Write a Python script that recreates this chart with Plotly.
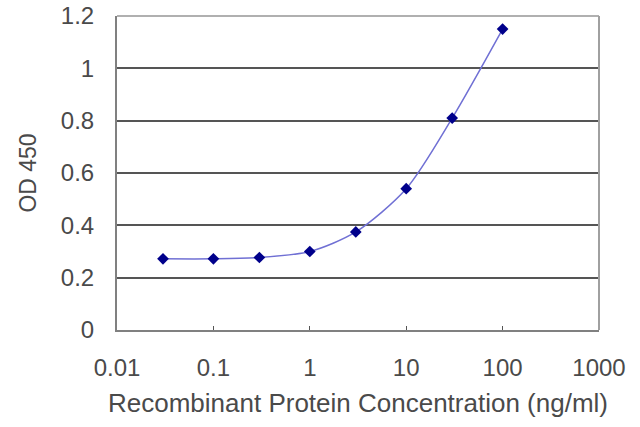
import plotly.graph_objects as go

# ELISA standard curve values
concentration = [0.03, 0.1, 0.3, 1, 3, 10, 30, 100]
od450 = [0.272, 0.272, 0.277, 0.300, 0.375, 0.540, 0.810, 1.150]

x_ticks = [0.01, 0.1, 1, 10, 100, 1000]
x_labels = ["0.01", "0.1", "1", "10", "100", "1000"]
y_ticks = [0, 0.2, 0.4, 0.6, 0.8, 1.0, 1.2]
y_labels = ["0", "0.2", "0.4", "0.6", "0.8", "1", "1.2"]

fig = go.Figure()
fig.add_trace(go.Scatter(
    x=concentration, y=od450,
    mode="lines+markers",
    line=dict(color="#7070d4", width=1.5, shape="spline", smoothing=0.8),
    marker=dict(symbol="diamond", size=9, color="#00008b"),
    showlegend=False,
))

font = dict(family="Liberation Sans, Arial, sans-serif", color="#4a4a4a")

# light frame on top / right like the Excel plot area
fig.add_shape(type="line", xref="paper", yref="paper", x0=0, x1=1, y0=1, y1=1,
              line=dict(color="#b0b0b0", width=2))
fig.add_shape(type="line", xref="paper", yref="paper", x0=1, x1=1, y0=0, y1=1,
              line=dict(color="#a0a0a0", width=2))

fig.update_layout(
    width=640, height=427,
    margin=dict(l=117, r=41, t=16, b=97),
    paper_bgcolor="white", plot_bgcolor="white",
    font=font,
    xaxis=dict(
        type="log", range=[-2, 3], automargin=False,
        tickvals=x_ticks, ticktext=x_labels,
        tickfont=dict(size=24), ticks="inside", ticklen=4, tickcolor="#555555",
        ticklabelstandoff=15,
        showgrid=False, zeroline=False,
        showline=True, linecolor="#808080", linewidth=2,
        title=dict(text="Recombinant Protein Concentration (ng/ml)", font=dict(size=26), standoff=14),
    ),
    yaxis=dict(
        range=[0, 1.2], automargin=False,
        tickvals=y_ticks, ticktext=y_labels,
        tickfont=dict(size=24), ticks="", ticklabelstandoff=16,
        showgrid=True, gridcolor="#555555", gridwidth=2,
        zeroline=False,
        showline=True, linecolor="#808080", linewidth=2,
        title=dict(text="OD 450", font=dict(size=23), standoff=18),
    ),
)

# drop the browser's default 8px body margin so the figure fills the window
fig.write_html("out.html", config={"displayModeBar": False},
               post_script="document.body.style.margin='0';")
